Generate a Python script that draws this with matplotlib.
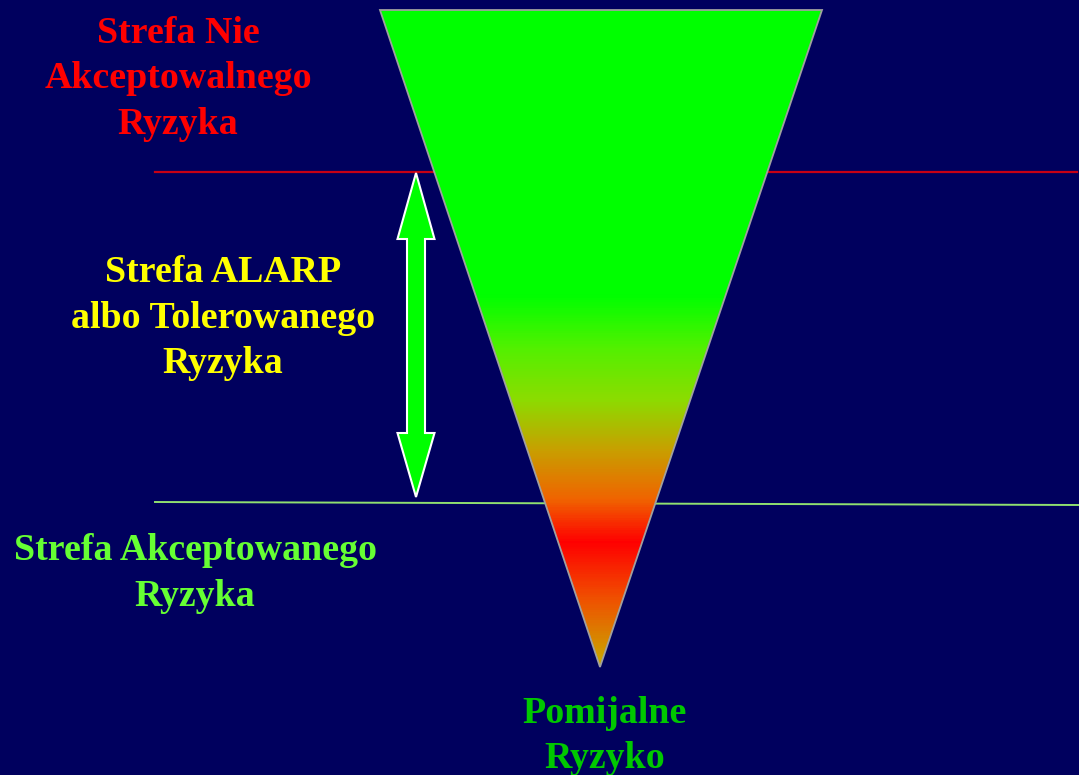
import numpy as np
import matplotlib.pyplot as plt
from matplotlib.patches import Polygon
from matplotlib.colors import LinearSegmentedColormap

W, H = 1079, 775
bg = '#00005E'

# triangle corners (pixel space)
tri_x = [380, 822, 600]
tri_y = [10, 10, 667]

# gradient stops down the triangle: position (y px) and colour
grad_y = [10, 295, 350, 400, 450, 500, 543, 600, 667]
grad_c = ['#00FF00', '#00FF00', '#55F000', '#8CDC00', '#C8A000', '#F06400', '#FF0000', '#F05000', '#C8AA00']

# boundary lines
red_line_y = 172
green_line_y = [502, 505]

# labels: lines, centre x, baseline of first line, colour
labels = [
    (['Strefa Nie', 'Akceptowalnego', 'Ryzyka'], 178, 43, '#FF0000'),
    (['Strefa ALARP', 'albo Tolerowanego', 'Ryzyka'], 223, 282, '#FFFF00'),
    (['Strefa Akceptowanego', 'Ryzyka'], 195, 560, '#66FF33'),
    (['Pomijalne', 'Ryzyko'], 605, 723, '#00C800'),
]
line_step = 45.5

fig = plt.figure(figsize=(W / 100, H / 100), dpi=100)
fig.patch.set_facecolor(bg)
ax = fig.add_axes([0, 0, 1, 1])
ax.set_facecolor(bg)
ax.set_xlim(0, W)
ax.set_ylim(H, 0)
ax.axis('off')

# lines behind the triangle
ax.plot([155, 1077], [red_line_y, red_line_y], color='#C80014', lw=1.6, zorder=1)
ax.plot([155, 1079], green_line_y, color='#90E070', lw=1.4, zorder=1)

# gradient-filled triangle
stops = [(y - grad_y[0]) / (grad_y[-1] - grad_y[0]) for y in grad_y]
cmap = LinearSegmentedColormap.from_list('risk', list(zip(stops, grad_c)))
grad = np.linspace(0, 1, 600).reshape(-1, 1)
im = ax.imshow(grad, cmap=cmap, aspect='auto',
               extent=[tri_x[0], tri_x[1], tri_y[2], tri_y[0]], zorder=2)
tri = Polygon(list(zip(tri_x, tri_y)), closed=True, facecolor='none',
              edgecolor='#A0A0A0', lw=1.3, zorder=3)
ax.add_patch(tri)
im.set_clip_path(tri)

# double-headed arrow as one outline
cx, top, bot = 416, 173, 497
hw, sw = 18.5, 9
arrow = [(cx, top), (cx + hw, top + 66), (cx + sw, top + 66), (cx + sw, bot - 64),
         (cx + hw, bot - 64), (cx, bot), (cx - hw, bot - 64), (cx - sw, bot - 64),
         (cx - sw, top + 66), (cx - hw, top + 66)]
ax.add_patch(Polygon(arrow, closed=True, facecolor='#00FF00', edgecolor='white',
                     lw=1.5, zorder=4))

for lines, x, y0, c in labels:
    for i, txt in enumerate(lines):
        ax.text(x, y0 + i * line_step, txt, color=c, ha='center', va='baseline',
                family='Liberation Serif', fontweight='bold', fontsize=27.3, zorder=6)

fig.savefig('out.png', dpi=100, facecolor=bg)
